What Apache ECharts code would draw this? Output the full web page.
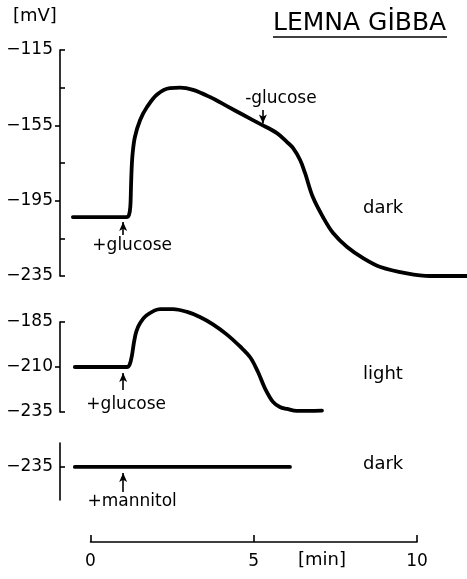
<!DOCTYPE html>
<html><head><meta charset="utf-8">
<script src="https://cdn.jsdelivr.net/npm/echarts@6/dist/echarts.min.js"></script>
<style>html,body{margin:0;padding:0;background:#fff}#c{width:467px;height:579px}</style>
</head><body><div id="c"></div><script>
// ---- data ----
const timeTicks = [0, 5, 10];
// panel 1: dark, +glucose then -glucose   [min, mV]
const darkGlucose = [[-0.54,-203.7],[1.10,-203.7],[1.18,-202.5],[1.22,-198],[1.24,-188],[1.26,-178],[1.29,-170],[1.36,-161.2],[1.52,-152.2],[1.73,-145.3],[2.04,-138.6],[2.43,-135.2],[2.74,-135.0],[3.14,-136.2],[3.66,-140.0],[4.18,-144.8],[4.67,-149.4],[5.19,-154.2],[5.71,-159.1],[6.02,-163.9],[6.20,-167.0],[6.42,-173.4],[6.57,-180.3],[6.81,-193.1],[7.12,-203.7],[7.43,-212.2],[7.86,-219.6],[8.35,-225.5],[8.88,-230.2],[9.69,-233.6],[10.40,-235],[11.53,-235]];
// panel 2: light, +glucose then -glucose
const lightGlucose = [[-0.48,-210],[1.12,-210],[1.20,-208.6],[1.27,-203.5],[1.33,-196.5],[1.40,-190.5],[1.52,-185.6],[1.73,-181.1],[2.13,-177.8],[2.53,-177.8],[2.96,-179.4],[3.35,-182.2],[3.75,-186.3],[4.18,-192.0],[4.58,-198.6],[4.89,-204.6],[5.13,-212.8],[5.34,-221.7],[5.59,-229.4],[5.80,-232.2],[6.02,-233.3],[6.32,-234.4],[7.09,-234.2]];
// panel 3: dark, +mannitol
const darkMannitol = [[-0.48,-235],[6.11,-235]];
// y-axis ticks and labels per panel
const yMin = [-235, -235, -253];
const yMax = [-115, -185, -222];
const yLabels = [[-235,-195,-155,-115], [-235,-210,-185], [-235]];
const yTicksIn = [[-235,-215,-175,-135,-115], [-235,-185], [-235]];
const yTicksOut = [[-195,-155], [-210], []];
// annotations (arrows)
const annoPanel = [0, 0, 1, 1, 2];
const annoTime = [1.0, 5.28, 1.0, 4.18, 1.0];
const annoTail = [-213.2, -146.9, -222.8, -172.8, -248.6];
const annoTip = [-206.3, -154.0, -213.3, -191.1, -238.3];
const annoText = ['+glucose', '-glucose', '+glucose', '-glucose', '+mannitol'];
const panelData = [darkGlucose, lightGlucose, darkMannitol];

// ---- layout ----
const annoOffset = [[9,11],[18,-12],[3,15],[24,-13],[9,10]];
const gridTop = [50, 322, 443, 500];
const gridH = [226, 90, 57, 42];
const X0 = 90.5, PXM = 32.65, LEFT = 60, RIGHT = 467;
const xLo = -(X0 - LEFT) / PXM, xHi = (RIGHT - X0) / PXM;
const FONT = 'DejaVu Sans';
const minus = v => (v < 0 ? '\u2212' : '') + Math.abs(v);

const grids = [0,1,2].map(i => ({left: LEFT, width: RIGHT - LEFT, top: gridTop[i], height: gridH[i]}));
grids.push({left: X0, width: 10 * PXM, top: gridTop[3], height: gridH[3]});
const xAxes = [0,1,2].map(i => ({type:'value', gridIndex:i, min:xLo, max:xHi, show:false}));
xAxes.push({type:'value', gridIndex:3, min:0, max:10, interval:5, position:'bottom',
  axisLine:{show:true, onZero:false, lineStyle:{color:'#000', width:1.6}},
  axisTick:{show:true, inside:true, length:7, customValues: timeTicks, lineStyle:{color:'#000', width:1.6}},
  axisLabel:{show:true, customValues: timeTicks, margin:11, color:'#000', fontSize:17, fontFamily:FONT},
  splitLine:{show:false}});
const yAxes = [];
[0,1,2].forEach(i => {
  yAxes.push({type:'value', gridIndex:i, min:yMin[i], max:yMax[i], position:'left', offset:0,
    axisLine:{show:true, onZero:false, lineStyle:{color:'#000', width:1.6}},
    axisTick:{show:true, inside:true, length:5, customValues:yTicksIn[i], lineStyle:{color:'#000', width:1.6}},
    axisLabel:{show:false}, splitLine:{show:false}});
  yAxes.push({type:'value', gridIndex:i, min:yMin[i], max:yMax[i], position:'left', offset:0,
    axisLine:{show:false, onZero:false},
    axisTick:{show:yTicksOut[i].length>0, inside:false, length:5, customValues:yTicksOut[i].length?yTicksOut[i]:[yMin[i]], lineStyle:{color:'#000', width:1.6}},
    axisLabel:{show:true, customValues:yLabels[i], formatter:minus, margin:7, color:'#000', fontSize:17, fontFamily:FONT},
    splitLine:{show:false}});
});
yAxes.push({type:'value', gridIndex:3, min:0, max:1, show:false});

const series = panelData.map((d, p) => {
  const idx = annoPanel.map((q, k) => q === p ? k : -1).filter(k => k >= 0);
  return {
    type:'line', xAxisIndex:p, yAxisIndex:2*p, data:d, showSymbol:false, clip:false,
    smooth:0.35, animation:false, silent:true,
    lineStyle:{color:'#000', width:3.8, cap:'round', join:'round'},
    markLine:{silent:true, animation:false, symbol:['none','arrow'], symbolSize:[6,9],
      lineStyle:{color:'#000', width:1.6, type:'solid'}, label:{show:false},
      data: idx.map(k => [{coord:[annoTime[k], annoTail[k]]}, {coord:[annoTime[k], annoTip[k]]}])},
    markPoint:{silent:true, animation:false, symbol:'circle', symbolSize:1, itemStyle:{color:'rgba(0,0,0,0)'},
      data: idx.map(k => ({coord:[annoTime[k], annoTail[k]], value:annoText[k],
        label:{show:true, position:'inside', formatter:annoText[k], offset:annoOffset[k], color:'#000', fontSize:17, fontFamily:FONT}}))}
  };
});

const ts = (text, left, top, size) => ({text, left, top, padding:0, textStyle:{color:'#000', fontSize:size, fontWeight:'normal', fontFamily:FONT}});
const chart = echarts.init(document.getElementById('c'), null, {renderer:'canvas'});
chart.setOption({
  backgroundColor:'#fff',
  animation:false,
  title:[ts('[mV]', 13, 7, 18), ts('LEMNA G\u0130BBA', 273, 11, 25), ts('dark', 363, 199, 18), ts('light', 363, 365, 18), ts('dark', 363, 455, 18), ts('[min]', 298, 551, 18)],
  grid:grids, xAxis:xAxes, yAxis:yAxes, series,
  graphic:[{type:'line', shape:{x1:273, y1:37, x2:447, y2:37}, style:{stroke:'#000', lineWidth:1.6}}]
});
</script></body></html>
